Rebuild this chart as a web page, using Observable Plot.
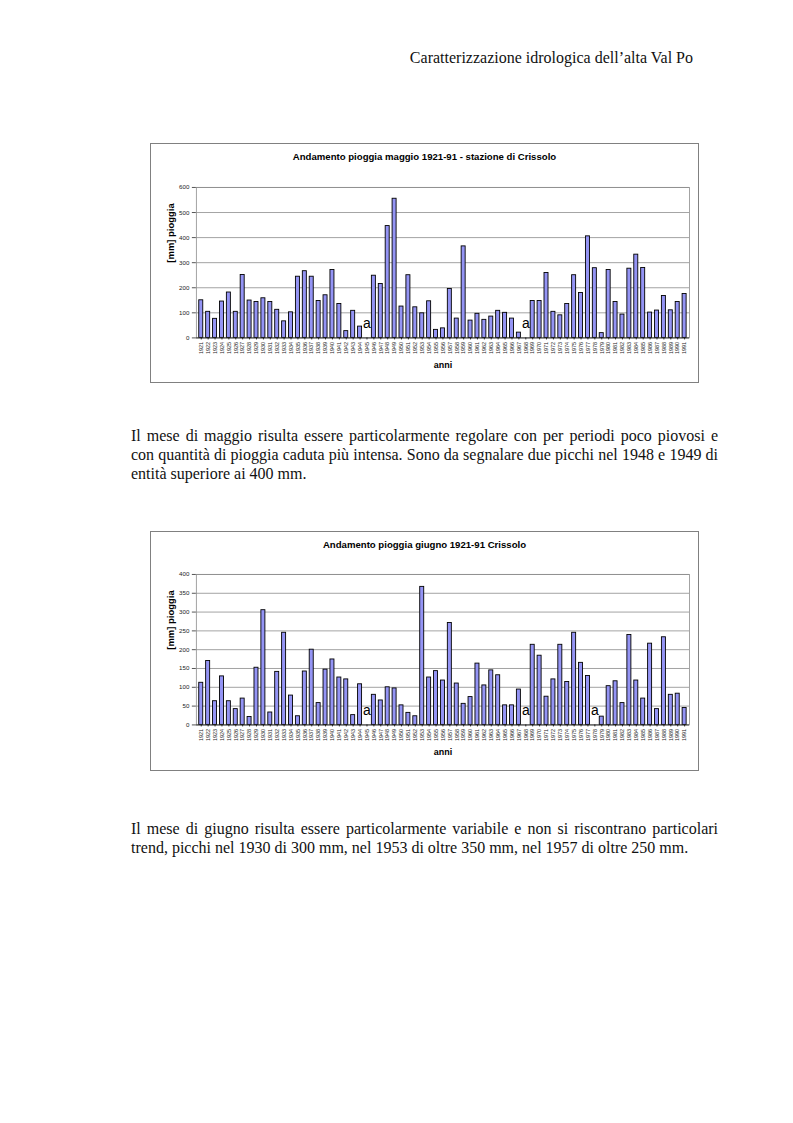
<!DOCTYPE html>
<html>
<head>
<meta charset="utf-8">
<script src="https://cdn.jsdelivr.net/npm/d3@7"></script>
<script src="https://cdn.jsdelivr.net/npm/@observablehq/plot@0.6"></script>
<style>
  html, body { margin: 0; padding: 0; background: #fff; }
  #page { position: relative; width: 793px; height: 1123px; background: #fff; overflow: hidden; }
  .header { position: absolute; right: 100px; top: 49px; font-family: "Liberation Serif", "Times New Roman", serif; font-size: 16px; line-height: 18px; color: #111; white-space: nowrap; }
  .frame { position: absolute; left: 150px; width: 549px; height: 240px; box-sizing: border-box; border: 1px solid #808080; background: #fff; }
  .ctitle { position: absolute; left: 0; right: 0; top: 7px; text-align: center; font-family: "Liberation Sans", Arial, sans-serif; font-weight: bold; font-size: 9.6px; color: #000; }
  .plotbox { position: absolute; left: -1px; top: 32px; }
  .para { position: absolute; left: 131px; width: 587px; font-family: "Liberation Serif", "Times New Roman", serif; font-size: 16px; line-height: 19px; color: #111; }
  .para .j { text-align: justify; text-align-last: justify; white-space: nowrap; }
  .para .l { text-align: left; white-space: nowrap; }
</style>
</head>
<body>
<div id="page">
  <div class="header">Caratterizzazione idrologica dell’alta Val Po</div>

  <div class="frame" style="top:143px">
    <div class="ctitle" id="t1"></div>
    <div class="plotbox" id="c1"></div>
  </div>

  <div class="para" style="top:426px">
    <div class="j">Il mese di maggio risulta essere particolarmente regolare con per periodi poco piovosi e</div>
    <div class="j">con quantità di pioggia caduta più intensa. Sono da segnalare due picchi nel 1948 e 1949 di</div>
    <div class="l">entità superiore ai 400 mm.</div>
  </div>

  <div class="frame" style="top:531px">
    <div class="ctitle" id="t2"></div>
    <div class="plotbox" id="c2"></div>
  </div>

  <div class="para" style="top:819px">
    <div class="j">Il mese di giugno risulta essere particolarmente variabile e non si riscontrano particolari</div>
    <div class="l">trend, picchi nel 1930 di 300 mm, nel 1953 di oltre 350 mm, nel 1957 di oltre 250 mm.</div>
  </div>
</div>

<script>
// ---- data ----
const years = ["1921","1922","1923","1924","1925","1926","1927","1928","1929","1930",
  "1931","1932","1933","1934","1935","1936","1937","1938","1939","1940",
  "1941","1942","1943","1944","1945","1946","1947","1948","1949","1950",
  "1951","1952","1953","1954","1955","1956","1957","1958","1959","1960",
  "1961","1962","1963","1964","1965","1966","1967","1968","1969","1970",
  "1971","1972","1973","1974","1975","1976","1977","1978","1979","1980",
  "1981","1982","1983","1984","1985","1986","1987","1988","1989","1990","1991"];

// May rainfall [mm], null = missing ("a")
const maggio = [150,104,76,145,181,104,251,149,143,158,
  143,112,66,102,244,266,244,147,170,271,
  135,27,108,45,null,248,215,446,555,125,
  250,122,98,146,32,38,195,77,365,69,
  96,72,85,108,100,77,21,null,147,147,
  259,104,90,135,250,179,405,278,19,271,
  143,93,276,332,279,101,109,167,110,143,175];

// June rainfall [mm], null = missing ("a")
const giugno = [112,170,63,129,63,42,70,21,152,305,
  33,141,245,78,23,142,200,58,147,174,
  126,121,26,108,null,80,65,100,97,52,
  32,23,367,126,143,118,271,110,56,74,
  163,105,145,132,52,52,94,null,213,184,
  75,121,213,114,245,165,130,null,22,103,
  116,58,239,118,70,216,42,233,80,83,45];

const ticksMaggio = [0,100,200,300,400,500,600];
const ticksGiugno = [0,50,100,150,200,250,300,350,400];

const title1 = "Andamento pioggia maggio 1921-91 - stazione di Crissolo";
const title2 = "Andamento pioggia giugno 1921-91 Crissolo";
const xLabel = "anni";
const yLabel = "[mm] pioggia";
const missingMark = "a";

// ---- drawing ----
function chart(values, ticks, marginTop) {
  const data = years.map((y, i) => ({year: y, value: values[i]}));
  const present = data.filter(d => d.value != null);
  const missing = data.filter(d => d.value == null);
  return Plot.plot({
    width: 550,
    height: 151 + marginTop + 40,
    marginLeft: 46,
    marginRight: 9,
    marginTop: marginTop,
    marginBottom: 40,
    style: {fontFamily: "'Liberation Sans', Arial, sans-serif", background: "transparent", color: "#222", overflow: "visible"},
    x: {type: "band", domain: years, padding: 0.42, align: 0.5},
    y: {domain: [0, ticks[ticks.length - 1]]},
    marks: [
      Plot.gridY(ticks, {stroke: "#8c8c8c", strokeOpacity: 1, strokeWidth: 0.8}),
      Plot.frame({stroke: "#8c8c8c", strokeWidth: 0.8}),
      Plot.barY(present, {x: "year", y: "value", fill: "#9494f4", stroke: "#000", strokeWidth: 0.9}),
      Plot.text(missing, {x: "year", y: () => 0, text: () => missingMark, dy: -14, fontSize: 14, fill: "#000"}),
      Plot.ruleY([0], {stroke: "#333", strokeWidth: 0.8}),
      Plot.axisY({ticks: ticks, tickSize: 4, tickPadding: 3, fontSize: 6.2, label: null, stroke: "#555"}),
      Plot.axisX({tickRotate: -90, tickSize: 2, tickPadding: 2, fontSize: 5.5, label: null}),
      Plot.text([xLabel], {frameAnchor: "bottom", dy: 30, fontWeight: "bold", fontSize: 9, fill: "#000"}),
      Plot.text([yLabel], {frameAnchor: "left", dx: -25, rotate: -90, fontWeight: "bold", fontSize: 9.5, fill: "#000"})
    ]
  });
}

document.getElementById("t1").textContent = title1;
document.getElementById("t2").textContent = title2;
document.getElementById("c1").appendChild(chart(maggio, ticksMaggio, 11));
document.getElementById("c2").appendChild(chart(giugno, ticksGiugno, 10));
</script>
</body>
</html>
